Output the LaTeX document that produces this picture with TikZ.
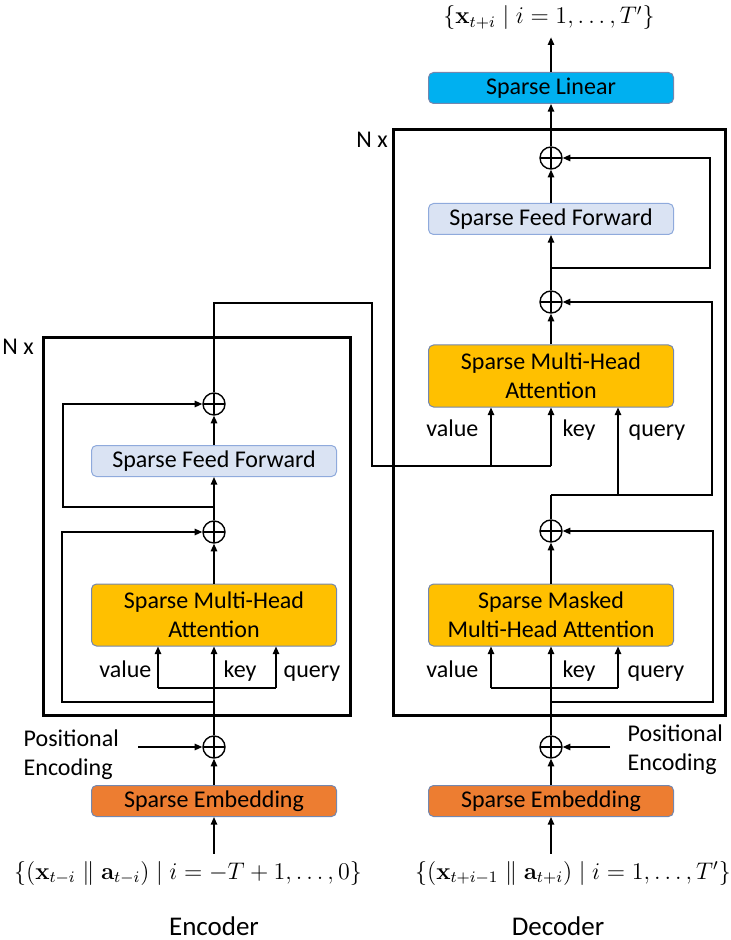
\documentclass[tikz,border=0pt]{standalone}
\usepackage{amsmath,amssymb}
\usepackage[no-math]{fontspec}
\setmainfont{Carlito}
\usepackage{xcolor}
\usepackage{tikz}
\usetikzlibrary{arrows.meta,positioning,calc}

\definecolor{ffblue}{HTML}{DAE3F3}
\definecolor{ffline}{HTML}{8FAADC}
\definecolor{attgold}{HTML}{FFC000}
\definecolor{embor}{HTML}{ED7D31}
\definecolor{lincyan}{HTML}{00B0F0}
\definecolor{boxline}{HTML}{7487AE}

\begin{document}
\begin{tikzpicture}[x=0.5pt,y=-0.5pt,
  font=\fontsize{12}{14.5}\selectfont,
  line width=0.7pt,
  blk/.style={draw=boxline,line width=0.5pt,rounded corners=2.5pt,minimum width=122.5pt,minimum height=15.5pt,inner sep=1pt,align=center},
  ff/.style={blk,fill=ffblue,draw=ffline},
  att/.style={blk,fill=attgold,minimum height=31pt},
  emb/.style={blk,fill=embor},
  lin/.style={blk,fill=lincyan},
  add/.style={draw,circle,minimum size=11pt,inner sep=0pt,
    path picture={\draw (path picture bounding box.north) -- (path picture bounding box.south)
      (path picture bounding box.west) -- (path picture bounding box.east);}},
  frame/.style={draw,line width=1.5pt,inner sep=0pt},
  lbl/.style={inner sep=0pt},
  sidename/.style={inner sep=0pt,font=\fontsize{13.5}{16}\selectfont},
  arr/.style={-{Triangle[length=3.8pt,width=3.2pt]}}
]
\useasboundingbox (0,0) rectangle (731,940);

% encoder
\node[emb] (emb1) at (214,801) {Sparse Embedding};
\node (in1) at (188,873) {$\{(\mathbf{x}_{t-i}\parallel\mathbf{a}_{t-i})\mid i=-T+1,\ldots,0\}$};
\node[add] (pe1) at (214,747) {};
\node[lbl,align=left,anchor=west] (pos1) at (23,755) {Positional\\Encoding};
\coordinate (pp1) at (138,747);
\node[frame,minimum width=153.5pt,minimum height=188.5pt] (nx1) at (196.5,526.5) {};
\node (n1) at (18,347) {N x};
\node[att] (mha1) at (214,615) {Sparse Multi-Head\\Attention};
\node[add] (add1) at (214,532) {};
\node[ff] (ff1) at (214,461) {Sparse Feed Forward};
\node[add] (add2) at (214,404) {};
\node[lbl,anchor=base east] (val1) at (152,677) {value};
\node[lbl,anchor=base west] (key1) at (223,677) {key};
\node[lbl,anchor=base west] (qry1) at (283,677) {query};
\node[sidename] (enc) at (214,926) {Encoder};

\coordinate (v1) at (158,688);
\coordinate (k1) at (214,688);
\coordinate (q1) at (276,688);
\coordinate (r1) at (214,702);
\coordinate (r2) at (214,507);
\coordinate (encout) at (214,303);

\draw[arr] (in1.north -| emb1.south) -- (emb1.south);
\draw[arr] (emb1) -- (pe1);
\draw[arr] (pp1) -- (pe1);
\draw (pe1) -- (k1);
\draw (v1) -- (q1);
\draw[arr] (v1) -- (v1 |- mha1.south);
\draw[arr] (k1) -- (k1 |- mha1.south);
\draw[arr] (q1) -- (q1 |- mha1.south);
\draw[arr] (r1) -- ++(-152,0) |- (add1);
\draw[arr] (mha1) -- (add1);
\draw[arr] (add1) -- (ff1);
\draw[arr] (r2) -- ++(-151,0) |- (add2);
\draw[arr] (ff1) -- (add2);

% decoder
\node[emb] (emb2) at (551,801) {Sparse Embedding};
\node (in2) at (573,873) {$\{(\mathbf{x}_{t+i-1}\parallel\mathbf{a}_{t+i})\mid i=1,\ldots,T'\}$};
\node[add] (pe2) at (551,747) {};
\node[lbl,align=left,anchor=west] (pos2) at (627,750) {Positional\\Encoding};
\coordinate (pp2) at (610,747);
\node[frame,minimum width=166pt,minimum height=292.5pt] (nx2) at (559,422.5) {};
\node (n2) at (372,140) {N x};
\node[att] (mha2) at (551,615) {Sparse Masked\\Multi-Head Attention};
\node[add] (add3) at (551,531) {};
\node[att] (mha3) at (551,376) {Sparse Multi-Head\\Attention};
\node[add] (add4) at (551,302) {};
\node[ff] (ff2) at (551,219) {Sparse Feed Forward};
\node[add] (add5) at (551,158) {};
\node[lin] (lin) at (551,88) {Sparse Linear};
\node (out) at (549,18) {$\{\mathbf{x}_{t+i}\mid i=1,\ldots,T'\}$};
\node[lbl,anchor=base east] (val2) at (479,677) {value};
\node[lbl,anchor=base west] (key2) at (562,677) {key};
\node[lbl,anchor=base west] (qry2) at (627,677) {query};
\node[lbl,anchor=base east] (val3) at (479,436) {value};
\node[lbl,anchor=base west] (key3) at (562,436) {key};
\node[lbl,anchor=base west] (qry3) at (628,436) {query};
\node[sidename] (dec) at (558,926) {Decoder};

\coordinate (v2) at (491,688);
\coordinate (k2) at (551,688);
\coordinate (q2) at (618,688);
\coordinate (r3) at (551,702);
\coordinate (r4) at (551,495);
\coordinate (q3) at (618,495);
\coordinate (r5) at (551,268);
\coordinate (v3) at (491,466);
\coordinate (k3) at (551,466);

\draw[arr] (in2.north -| emb2.south) -- (emb2.south);
\draw[arr] (emb2) -- (pe2);
\draw[arr] (pp2) -- (pe2);
\draw (pe2) -- (k2);
\draw (v2) -- (q2);
\draw[arr] (v2) -- (v2 |- mha2.south);
\draw[arr] (k2) -- (k2 |- mha2.south);
\draw[arr] (q2) -- (q2 |- mha2.south);
\draw[arr] (r3) -- ++(162,0) |- (add3);
\draw[arr] (mha2) -- (add3);
\draw (add3) -- (r4);
\draw[arr] (r4) -- ++(161,0) |- (add4);
\draw[arr] (q3) -- (q3 |- mha3.south);
\draw[arr] (mha3) -- (add4);
\draw[arr] (add4) -- (ff2);
\draw[arr] (r5) -- ++(159,0) |- (add5);
\draw[arr] (ff2) -- (add5);
\draw[arr] (add5) -- (lin);
\draw[arr] (lin.north) -- (lin.north |- out.south);

% encoder output into cross attention
\draw (add2) -- (encout) -- ++(158,0) |- (k3);
\draw[arr] (v3) -- (v3 |- mha3.south);
\draw[arr] (k3) -- (k3 |- mha3.south);
\end{tikzpicture}
\end{document}
